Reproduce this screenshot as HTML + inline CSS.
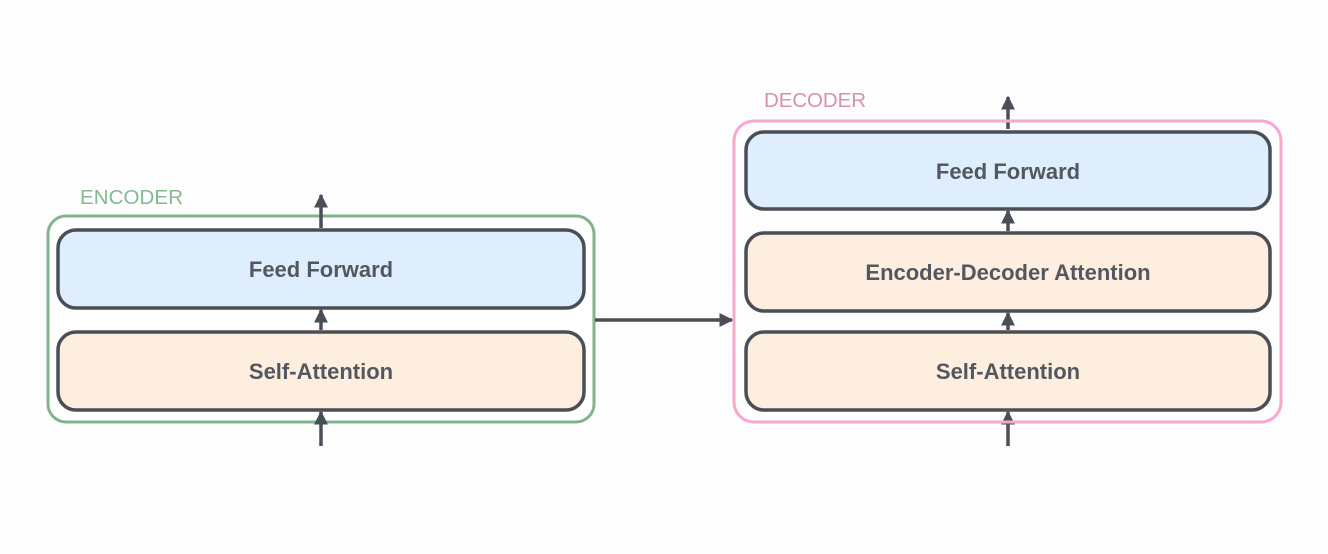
<!DOCTYPE html>
<html><head><style>html,body{margin:0;padding:0;background:#fdfdfd;}svg{display:block}</style></head><body>
<svg width="1328" height="554" viewBox="0 0 1328 554" xmlns="http://www.w3.org/2000/svg" font-family="Liberation Sans, sans-serif">
<defs><marker id="a" viewBox="0 0 10 10" refX="9" refY="5" markerWidth="4" markerHeight="4" orient="auto-start-reverse"><path d="M0,0 L10,5 L0,10 z" fill="#4a4e57"/></marker></defs>
<rect width="1328" height="554" fill="#fdfdfd"/>
<!-- encoder -->
<rect x="48" y="216" width="546" height="206" rx="18" fill="#fff" stroke="#80b48c" stroke-width="3"/>
<text x="80" y="204" font-size="20.5" fill="#86b992" textLength="103">ENCODER</text>
<rect x="58" y="230" width="526" height="78" rx="18" fill="#dfeefd" stroke="#4a4e57" stroke-width="3.5"/>
<rect x="58" y="332" width="526" height="78" rx="18" fill="#fdeedf" stroke="#4a4e57" stroke-width="3.5"/>
<text x="321" y="277" font-size="22" font-weight="bold" fill="#53575f" text-anchor="middle">Feed Forward</text>
<text x="321" y="379" font-size="22" font-weight="bold" fill="#53575f" text-anchor="middle">Self-Attention</text>
<g stroke="#4a4e57" stroke-width="3.5" marker-end="url(#a)">
<line x1="321" y1="228" x2="321" y2="195"/>
<line x1="321" y1="330" x2="321" y2="310"/>
<line x1="321" y1="446" x2="321" y2="412"/>
<line x1="595" y1="320" x2="732" y2="320"/>
<line x1="1008" y1="129" x2="1008" y2="97"/>
<line x1="1008" y1="231" x2="1008" y2="211"/>
<line x1="1008" y1="330" x2="1008" y2="313"/>
<line x1="1008" y1="446" x2="1008" y2="412"/>
</g>
<!-- decoder -->
<rect x="734" y="121" width="547" height="301" rx="20" fill="none" stroke="#f7a8d0" stroke-width="3"/>
<text x="764" y="107" font-size="20.5" fill="#d88fb0" textLength="102">DECODER</text>
<rect x="746" y="132" width="524" height="77" rx="18" fill="#dfeefd" stroke="#4a4e57" stroke-width="3.5"/>
<rect x="746" y="233" width="524" height="78" rx="18" fill="#fdeedf" stroke="#4a4e57" stroke-width="3.5"/>
<rect x="746" y="332" width="524" height="78" rx="18" fill="#fdeedf" stroke="#4a4e57" stroke-width="3.5"/>
<text x="1008" y="179" font-size="22" font-weight="bold" fill="#53575f" text-anchor="middle">Feed Forward</text>
<text x="1008" y="280" font-size="22" font-weight="bold" fill="#53575f" text-anchor="middle">Encoder-Decoder Attention</text>
<text x="1008" y="379" font-size="22" font-weight="bold" fill="#53575f" text-anchor="middle">Self-Attention</text>
</svg>
</body></html>
